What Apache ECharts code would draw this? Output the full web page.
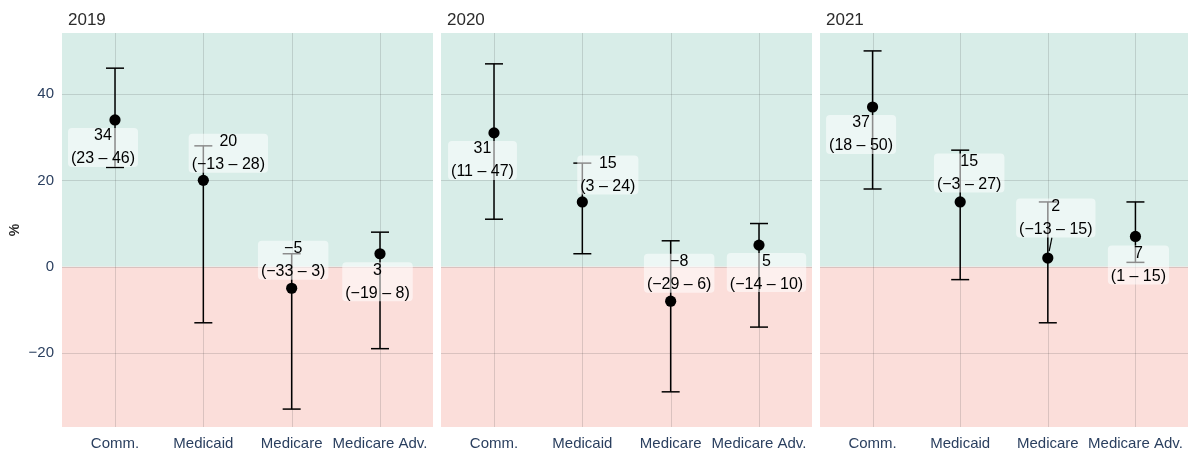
<!DOCTYPE html>
<html>
<head>
<meta charset="utf-8">
<script src="https://cdn.jsdelivr.net/npm/echarts@6/dist/echarts.min.js"></script>
<style>
  html, body { margin: 0; padding: 0; background: #ffffff; }
  #chart { width: 1188px; height: 455px; }
</style>
</head>
<body>
<div id="chart"></div>
<script>
// Payer categories and study years
const categories = ['Comm.', 'Medicaid', 'Medicare', 'Medicare Adv.'];
const years = ['2019', '2020', '2021'];

// Point estimates (%) and interval bounds, one array per year
const est2019 = [34, 20, -5, 3];
const low2019 = [23, -13, -33, -19];
const high2019 = [46, 28, 3, 8];

const est2020 = [31, 15, -8, 5];
const low2020 = [11, 3, -29, -14];
const high2020 = [47, 24, 6, 10];

const est2021 = [37, 15, 2, 7];
const low2021 = [18, -3, -13, 1];
const high2021 = [50, 27, 15, 15];

// Y axis tick labels
const yTicks = [-20, 0, 20, 40];

// ---- layout / styling (kept apart from the data) ----
const Y_MIN = -37.15, Y_MAX = 54.15;
const X_MIN = 0.4, X_MAX = 4.6;
const panelLayout = [
  { left: 62, width: 371 },
  { left: 441, width: 371 },
  { left: 820, width: 370 }
];
const GRID_TOP = 33, GRID_HEIGHT = 394;
// pixel offsets of each label box centre from its point
const labelOffsets = [
  [[-12, 27.5], [25, -27], [1.5, -28], [-2.5, 28]],
  [[-11.5, 27.5], [25.5, -27], [8.5, -28], [7.5, 27.5]],
  [[-11.5, 27.5], [9, -29], [8, -40], [3, 28.5]]
];

const FONT = '"Liberation Sans", Arial, Helvetica, sans-serif';
const LABEL_FONT_SIZE = 16;
const LABEL_LINE_H = 23;
const GREEN = '#d8ede8';
const RED = '#fbdeda';
const GRID_LINE = 'rgba(60,60,60,0.17)';
const AXIS_TEXT = '#2a3f5f';

const panelData = [
  { est: est2019, low: low2019, high: high2019 },
  { est: est2020, low: low2020, high: high2020 },
  { est: est2021, low: low2021, high: high2021 }
];

const fmt = v => (v < 0 ? '\u2212' + Math.abs(v) : String(v));
const labelText = (e, l, h) => fmt(e) + '\n(' + fmt(l) + ' \u2013 ' + fmt(h) + ')';

// text measurement for connector geometry
const measureCtx = document.createElement('canvas').getContext('2d');
measureCtx.font = LABEL_FONT_SIZE + 'px ' + FONT;

const grids = [], xAxes = [], yAxes = [], series = [], titles = [];

panelLayout.forEach((p, k) => {
  grids.push({ left: p.left, width: p.width, top: GRID_TOP, height: GRID_HEIGHT, containLabel: false });
  titles.push({
    text: years[k], left: p.left + 1, top: 7,
    textStyle: { fontFamily: FONT, fontSize: 17, fontWeight: 'normal', color: '#2b2b2b' }
  });
  xAxes.push({
    type: 'value', gridIndex: k, min: X_MIN, max: X_MAX,
    axisLine: { show: false }, axisTick: { show: false }, splitLine: { show: false },
    axisLabel: {
      customValues: [1, 2, 3, 4],
      formatter: v => categories[Math.round(v) - 1] || '',
      color: AXIS_TEXT, fontFamily: FONT, fontSize: 15, margin: 9
    }
  });
  yAxes.push({
    type: 'value', gridIndex: k, min: Y_MIN, max: Y_MAX,
    name: k === 0 ? '%' : '', nameLocation: 'middle', nameGap: 40, nameRotate: 90,
    nameTextStyle: { fontFamily: FONT, fontSize: 14, fontWeight: 'bold', color: '#2b2b2b' },
    axisLine: { show: false }, axisTick: { show: false }, splitLine: { show: false },
    axisLabel: {
      show: k === 0,
      customValues: yTicks,
      formatter: v => fmt(v),
      color: AXIS_TEXT, fontFamily: FONT, fontSize: 15, margin: 8
    }
  });

  const d = panelData[k];
  const rows = categories.map((c, i) => [i + 1, d.est[i], d.low[i], d.high[i]]);

  // background bands and grid lines
  series.push({
    type: 'custom', xAxisIndex: k, yAxisIndex: k, z: 0, silent: true,
    data: [[1, 0]],
    renderItem: (params, api) => {
      const tl = api.coord([X_MIN, Y_MAX]);
      const zr = api.coord([X_MAX, 0]);
      const br = api.coord([X_MAX, Y_MIN]);
      const children = [
        { type: 'rect', shape: { x: tl[0], y: tl[1], width: zr[0] - tl[0], height: zr[1] - tl[1] }, style: { fill: GREEN } },
        { type: 'rect', shape: { x: tl[0], y: zr[1], width: br[0] - tl[0], height: br[1] - zr[1] }, style: { fill: RED } }
      ];
      categories.forEach((c, i) => {
        const a = api.coord([i + 1, Y_MAX]), b = api.coord([i + 1, Y_MIN]);
        children.push({ type: 'line', shape: { x1: Math.round(a[0]) + 0.5, y1: a[1], x2: Math.round(b[0]) + 0.5, y2: b[1] }, style: { stroke: GRID_LINE, lineWidth: 1 } });
      });
      yTicks.forEach(t => {
        const a = api.coord([X_MIN, t]), b = api.coord([X_MAX, t]);
        children.push({ type: 'line', shape: { x1: a[0], y1: Math.round(a[1]) + 0.5, x2: b[0], y2: Math.round(b[1]) + 0.5 }, style: { stroke: GRID_LINE, lineWidth: 1 } });
      });
      return { type: 'group', children };
    }
  });

  // interval bars with caps and point estimates
  series.push({
    type: 'custom', xAxisIndex: k, yAxisIndex: k, z: 2, silent: true,
    encode: { x: 0, y: [1, 2, 3] },
    data: rows,
    renderItem: (params, api) => {
      const x = api.value(0);
      const pe = api.coord([x, api.value(1)]);
      const pl = api.coord([x, api.value(2)]);
      const ph = api.coord([x, api.value(3)]);
      const cap = 9;
      const lineStyle = { stroke: '#000', lineWidth: 1.5 };
      return {
        type: 'group',
        children: [
          { type: 'line', shape: { x1: pe[0], y1: pl[1], x2: pe[0], y2: ph[1] }, style: lineStyle },
          { type: 'line', shape: { x1: pe[0] - cap, y1: pl[1], x2: pe[0] + cap, y2: pl[1] }, style: lineStyle },
          { type: 'line', shape: { x1: pe[0] - cap, y1: ph[1], x2: pe[0] + cap, y2: ph[1] }, style: lineStyle },
          { type: 'circle', shape: { cx: pe[0], cy: pe[1], r: 5.6 }, style: { fill: '#000' } }
        ]
      };
    }
  });

  // value labels with translucent boxes
  series.push({
    type: 'custom', xAxisIndex: k, yAxisIndex: k, z: 3, silent: true,
    encode: { x: 0, y: [1, 2, 3] },
    data: rows,
    renderItem: (params, api) => {
      const i = params.dataIndex;
      const e = api.value(1), l = api.value(2), h = api.value(3);
      const p = api.coord([api.value(0), e]);
      const off = labelOffsets[k][i];
      const c = [p[0] + off[0], p[1] + off[1]];
      const txt = labelText(e, l, h);
      const w = Math.max(...txt.split('\n').map(s => measureCtx.measureText(s).width)) / 2 + 3;
      const hh = 19.5;
      const children = [];
      // connector segment when the box sits far from its point
      const t = Math.min(Math.abs(off[0]) > 0 ? w / Math.abs(off[0]) : Infinity,
                         Math.abs(off[1]) > 0 ? hh / Math.abs(off[1]) : Infinity);
      if (t < 1) {
        const len = Math.hypot(off[0], off[1]);
        const ux = off[0] / len, uy = off[1] / len;
        const ex = c[0] - off[0] * t, ey = c[1] - off[1] * t;
        const sx = p[0] + ux * 7, sy = p[1] + uy * 7;
        if (Math.hypot(ex - sx, ey - sy) > 8) {
          children.push({ type: 'line', shape: { x1: sx, y1: sy, x2: ex, y2: ey }, style: { stroke: '#000', lineWidth: 1.2 } });
        }
      }
      children.push({
        type: 'text',
        x: c[0], y: c[1],
        style: {
          text: txt,
          x: 0, y: 0,
          align: 'center', verticalAlign: 'middle',
          font: LABEL_FONT_SIZE + 'px ' + FONT,
          fill: '#000',
          lineHeight: LABEL_LINE_H,
          backgroundColor: 'rgba(255,255,255,0.55)',
          borderRadius: 4,
          padding: [-3.5, 3, -3.5, 3]
        }
      });
      return { type: 'group', children };
    }
  });
});

const chart = echarts.init(document.getElementById('chart'), null, { renderer: 'canvas' });
chart.setOption({
  backgroundColor: '#ffffff',
  animation: false,
  title: titles,
  grid: grids,
  xAxis: xAxes,
  yAxis: yAxes,
  series
});
</script>
</body>
</html>
